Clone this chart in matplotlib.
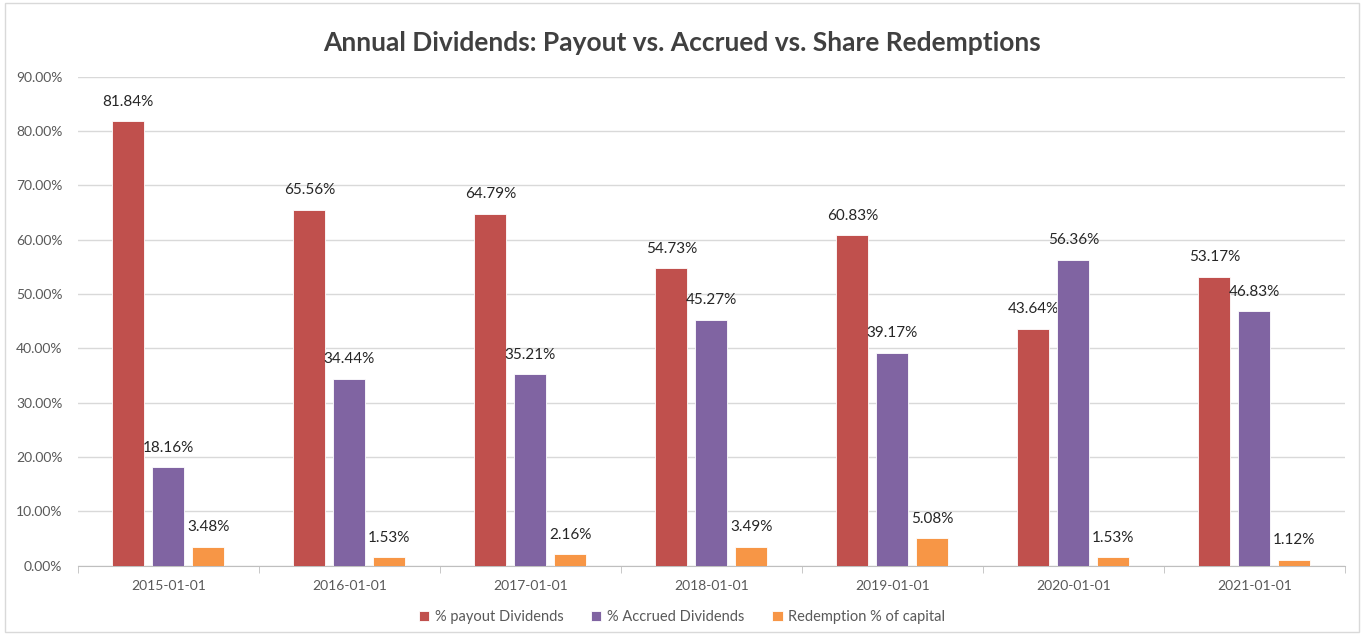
import numpy as np
import matplotlib.pyplot as plt
from matplotlib.ticker import FuncFormatter
from matplotlib.patches import Rectangle

plt.rcParams['font.family'] = ['Lato', 'DejaVu Sans']

years = ['2015-01-01', '2016-01-01', '2017-01-01', '2018-01-01',
         '2019-01-01', '2020-01-01', '2021-01-01']
payout = [81.84, 65.56, 64.79, 54.73, 60.83, 43.64, 53.17]
accrued = [18.16, 34.44, 35.21, 45.27, 39.17, 56.36, 46.83]
redemption = [3.48, 1.53, 2.16, 3.49, 5.08, 1.53, 1.12]

series = [
    ('% payout Dividends', payout, '#C0504D'),
    ('% Accrued Dividends', accrued, '#8064A2'),
    ('Redemption % of capital', redemption, '#F79646'),
]

fig = plt.figure(figsize=(13.64, 6.35), dpi=100)
ax = fig.add_axes([0.057, 0.109, 0.929, 0.770])

fig.patches.append(Rectangle((0.004, 0.004), 0.992, 0.992, transform=fig.transFigure,
                             fill=False, edgecolor='#D9D9D9', linewidth=1))

x = np.arange(len(years))
width = 0.177
step = 0.221
for i, (name, vals, color) in enumerate(series):
    bars = ax.bar(x + (i - 1) * step, vals, width, color=color, label=name,
                  edgecolor='white', linewidth=0.6, zorder=3)
    for b, v in zip(bars, vals):
        ax.annotate(f'{v:.2f}%', (b.get_x() + b.get_width() / 2, v),
                    xytext=(0, 9), textcoords='offset points',
                    ha='center', va='bottom', fontsize=11, color='#262626')

ax.set_xlim(-0.5, len(years) - 0.5)
ax.set_ylim(0, 90)
ax.set_yticks(np.arange(0, 91, 10))
ax.yaxis.set_major_formatter(FuncFormatter(lambda v, p: f'{v:.2f}%'))
ax.set_xticks(x)
ax.set_xticklabels(years)
ax.set_xticks(np.arange(-0.5, len(years)), minor=True)
ax.tick_params(axis='x', which='major', length=0, pad=10, labelsize=10, labelcolor='#595959')
ax.tick_params(axis='x', which='minor', length=5, color='#BFBFBF', direction='out')
ax.tick_params(axis='y', length=0, labelsize=10, labelcolor='#595959', pad=11)
ax.grid(axis='y', color='#D9D9D9', linewidth=1, zorder=0)
for s in ['top', 'right', 'left']:
    ax.spines[s].set_visible(False)
ax.spines['bottom'].set_color('#BFBFBF')

fig.text(0.5, 0.933, 'Annual Dividends: Payout vs. Accrued vs. Share Redemptions',
         ha='center', va='center', fontsize=19, fontweight='bold', color='#404040')

fig.legend(loc='center', bbox_to_anchor=(0.5, 0.028), ncol=3, frameon=False,
           fontsize=10.5, handlelength=0.7, handleheight=0.7, columnspacing=1.9,
           handletextpad=0.4, labelcolor='#595959')

fig.savefig('out.png', dpi=100)
